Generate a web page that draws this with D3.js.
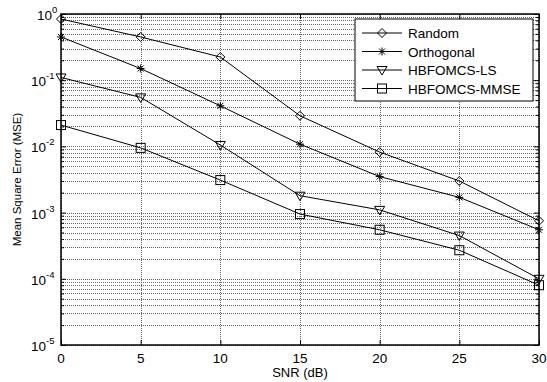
<!DOCTYPE html>
<html>
<head>
<meta charset="utf-8">
<script src="https://cdn.jsdelivr.net/npm/d3@7"></script>
<style>
  body { margin: 0; background: #fff; }
  text { font-family: "Liberation Sans", Arial, sans-serif; }
</style>
</head>
<body>
<div id="chart"></div>
<script>
const snr = [0, 5, 10, 15, 20, 25, 30];
const random = [0.84, 0.45, 0.224, 0.029, 0.0082, 0.003, 0.00075];
const orthogonal = [0.45, 0.15, 0.041, 0.0108, 0.0035, 0.0017, 0.00055];
const hbfLS = [0.11, 0.055, 0.0105, 0.0018, 0.0011, 0.00045, 0.0001];
const hbfMMSE = [0.021, 0.0095, 0.0031, 0.00095, 0.00055, 0.00027, 0.00008];
const seriesNames = ["Random", "Orthogonal", "HBFOMCS-LS", "HBFOMCS-MMSE"];
const markers = ["diamond", "star", "triangle", "square"];
const xTicks = [0, 5, 10, 15, 20, 25, 30];
const yExps = [0, -1, -2, -3, -4, -5];

const W = 547, H = 382;
const margin = { top: 14, right: 8, bottom: 37, left: 61 };

const svg = d3
  .select("#chart")
  .append("svg")
  .attr("width", W)
  .attr("height", H);

const x = d3.scaleLinear().domain([0, 30]).range([margin.left, W - margin.right]);
const y = d3.scaleLog().domain([1e-5, 1]).range([H - margin.bottom, margin.top]);

const x0 = x.range()[0], x1 = x.range()[1];
const y0 = y.range()[0], y1 = y.range()[1];

// minor + major values for the log axis
const minorVals = [];
for (let e = -5; e < 0; e++) {
  for (let m = 2; m <= 9; m++) minorVals.push(m * Math.pow(10, e));
}
const majorVals = yExps.map((e) => Math.pow(10, e));

// grid (dotted, like matlab)
const grid = svg.append("g").attr("class", "grid");
grid
  .selectAll(".hg")
  .data(minorVals.concat(majorVals))
  .join("line")
  .attr("x1", x0)
  .attr("x2", x1)
  .attr("y1", (d) => Math.round(y(d)) + 0.5)
  .attr("y2", (d) => Math.round(y(d)) + 0.5)
  .style("stroke", "#666")
  .style("stroke-width", 1)
  .style("stroke-dasharray", "1,1");
grid
  .selectAll(".vg")
  .data(xTicks)
  .join("line")
  .attr("x1", (d) => Math.round(x(d)) + 0.5)
  .attr("x2", (d) => Math.round(x(d)) + 0.5)
  .attr("y1", y0)
  .attr("y2", y1)
  .style("stroke", "#666")
  .style("stroke-width", 1)
  .style("stroke-dasharray", "1,1");

// axes (inward ticks, box)
const axL = svg
  .append("g")
  .attr("transform", `translate(${x0},0)`)
  .call(d3.axisRight(y).tickValues(majorVals).tickSize(5).tickFormat(""));
const axLm = svg
  .append("g")
  .attr("transform", `translate(${x0},0)`)
  .call(d3.axisRight(y).tickValues(minorVals).tickSize(3).tickFormat(""));
const axR = svg
  .append("g")
  .attr("transform", `translate(${x1},0)`)
  .call(d3.axisLeft(y).tickValues(majorVals).tickSize(5).tickFormat(""));
const axRm = svg
  .append("g")
  .attr("transform", `translate(${x1},0)`)
  .call(d3.axisLeft(y).tickValues(minorVals).tickSize(3).tickFormat(""));
const axB = svg
  .append("g")
  .attr("transform", `translate(0,${y0})`)
  .call(d3.axisTop(x).tickValues(xTicks).tickSize(5).tickFormat(""));
const axT = svg
  .append("g")
  .attr("transform", `translate(0,${y1})`)
  .call(d3.axisBottom(x).tickValues(xTicks).tickSize(5).tickFormat(""));
[axL, axLm, axR, axRm, axB, axT].forEach((g) => {
  g.select(".domain").remove();
  g.selectAll("line").style("stroke", "#000");
});

svg
  .append("rect")
  .attr("x", x0)
  .attr("y", y1)
  .attr("width", x1 - x0)
  .attr("height", y0 - y1)
  .style("fill", "none")
  .style("stroke", "#000")
  .style("stroke-width", 1.5);

// x tick labels
svg
  .selectAll(".xl")
  .data(xTicks)
  .join("text")
  .attr("x", (d) => x(d))
  .attr("y", y0 + 18)
  .attr("text-anchor", "middle")
  .style("font-size", "13.5px")
  .text((d) => d);

// y tick labels: 10 with superscript exponent
const yl = svg
  .selectAll(".yl")
  .data(yExps)
  .join("text")
  .attr("x", (d) => (d === 0 ? 37 : 31))
  .attr("y", (d) => y(Math.pow(10, d)) + 6)
  .style("font-size", "13.5px");
yl.append("tspan").text("10");
yl.append("tspan")
  .attr("dy", -7)
  .style("font-size", "9.5px")
  .text((d) => d);

// axis titles
svg
  .append("text")
  .attr("x", (x0 + x1) / 2)
  .attr("y", H - 5)
  .attr("text-anchor", "middle")
  .style("font-size", "13px")
  .text("SNR (dB)");
svg
  .append("text")
  .attr("transform", `translate(21,${(y0 + y1) / 2}) rotate(-90)`)
  .attr("text-anchor", "middle")
  .style("font-size", "11.5px")
  .text("Mean Square Error (MSE)");

// markers
function drawMarker(g, type, cx, cy) {
  if (type === "diamond") {
    g.append("path")
      .attr("d", `M${cx},${cy - 4.5}L${cx + 4.5},${cy}L${cx},${cy + 4.5}L${cx - 4.5},${cy}Z`)
      .style("fill", "none").style("stroke", "#000");
  } else if (type === "square") {
    g.append("rect")
      .attr("x", cx - 4.5).attr("y", cy - 4.5)
      .attr("width", 9).attr("height", 9)
      .style("fill", "none").style("stroke", "#000");
  } else if (type === "triangle") {
    g.append("path")
      .attr("d", `M${cx - 5},${cy - 3.5}L${cx + 5},${cy - 3.5}L${cx},${cy + 5}Z`)
      .style("fill", "none").style("stroke", "#000");
  } else {
    const r = 4;
    let d = `M${cx - r},${cy}L${cx + r},${cy}M${cx},${cy - r}L${cx},${cy + r}`;
    d += `M${cx - 3},${cy - 3}L${cx + 3},${cy + 3}M${cx - 3},${cy + 3}L${cx + 3},${cy - 3}`;
    g.append("path").attr("d", d).style("fill", "none").style("stroke", "#000");
  }
}

const allSeries = [random, orthogonal, hbfLS, hbfMMSE];
const line = d3
  .line()
  .x((d) => x(d[0]))
  .y((d) => y(d[1]));

allSeries.forEach((vals, i) => {
  const pts = snr.map((s, j) => [s, vals[j]]);
  const g = svg.append("g");
  g.append("path")
    .datum(pts)
    .attr("d", line)
    .style("fill", "none")
    .style("stroke", "#000")
    .style("stroke-width", 1);
  pts.forEach((p) => drawMarker(g, markers[i], x(p[0]), y(p[1])));
});

// legend
const lg = svg.append("g");
const lx = 355, ly = 19, lw = 178, lh = 82;
lg.append("rect")
  .attr("x", lx).attr("y", ly)
  .attr("width", lw).attr("height", lh)
  .style("fill", "#fff")
  .style("stroke", "#000");
seriesNames.forEach((name, i) => {
  const cy = ly + 14 + i * 18.5;
  lg.append("line")
    .attr("x1", 362).attr("x2", 402)
    .attr("y1", cy).attr("y2", cy)
    .style("stroke", "#000");
  drawMarker(lg, markers[i], 382, cy);
  lg.append("text")
    .attr("x", 408)
    .attr("y", cy + 5)
    .style("font-size", "13.5px")
    .text(name);
});
</script>
</body>
</html>
